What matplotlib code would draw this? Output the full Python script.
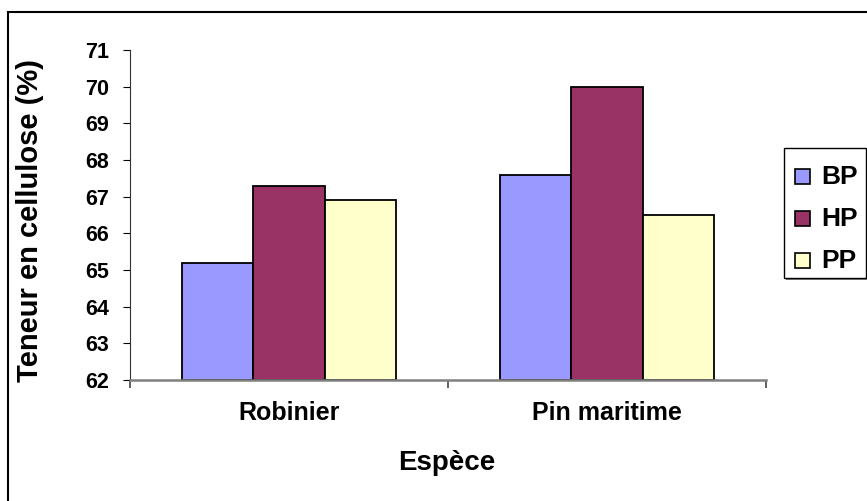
import numpy as np
import matplotlib.pyplot as plt
from matplotlib.patches import Rectangle

plt.rcParams['font.family'] = ['Liberation Sans', 'DejaVu Sans']
plt.rcParams['font.weight'] = 'bold'

especes = ['Robinier', 'Pin maritime']
series = ['BP', 'HP', 'PP']
bp = [65.2, 67.6]
hp = [67.3, 70.0]
pp = [66.9, 66.5]
couleurs = ['#9999FF', '#993366', '#FFFFCC']

W, H = 867, 501
fig = plt.figure(figsize=(W / 100, H / 100), dpi=100)
ax = fig.add_axes([130 / W, 1 - 380 / H, (766 - 130) / W, (380 - 50) / H])

x = np.arange(len(especes))
w = 0.225
for i, (vals, c) in enumerate(zip([bp, hp, pp], couleurs)):
    ax.bar(x + (i - 1) * w, np.array(vals) - 62, w, bottom=62,
           color=c, edgecolor='black', linewidth=1.3, label=series[i])

ax.set_ylim(62, 71)
ax.set_xlim(-0.5, 1.5)
ax.set_yticks(range(62, 72))
ax.tick_params(axis='y', labelsize=15.5, length=5, width=0.8, pad=10)
for t in ax.get_yticklabels():
    t.set_fontweight('bold')

ax.set_xticks(x)
ax.set_xticklabels(especes, fontsize=18, fontweight='bold')
ax.tick_params(axis='x', length=0, pad=15)
ax.set_xticks([-0.5, 0.5, 1.5], minor=True)
ax.tick_params(axis='x', which='minor', length=6, width=1.2, color='#444444')

ax.spines['top'].set_visible(False)
ax.spines['right'].set_visible(False)
ax.spines['left'].set_color('#333333')
ax.spines['bottom'].set_color('#808080')
ax.spines['bottom'].set_linewidth(1.8)

fig.text(30 / W, 1 - 220 / H, 'Teneur en cellulose (%)', rotation=90,
         ha='center', va='center', fontsize=21, fontweight='bold')
fig.text(447 / W, 1 - 463 / H, 'Espèce', ha='center', va='center',
         fontsize=20, fontweight='bold')

# cadre de la figure
fig.patches.append(Rectangle((8 / W, -0.1), 1.2, 1.1 - 12 / H,
                             transform=fig.transFigure, fill=False,
                             edgecolor='black', linewidth=1.5))

# légende avec ombre
lx0, lx1, ly0, ly1 = 784, 866, 148, 278
fig.patches.append(Rectangle((lx0 / W + 2 / W, 1 - ly1 / H - 2 / H),
                             (lx1 - lx0) / W, (ly1 - ly0) / H,
                             transform=fig.transFigure, facecolor='#808080',
                             edgecolor='none'))
fig.patches.append(Rectangle((lx0 / W, 1 - ly1 / H), (lx1 - lx0) / W,
                             (ly1 - ly0) / H, transform=fig.transFigure,
                             facecolor='white', edgecolor='black',
                             linewidth=1.0))
for i, (s, c) in enumerate(zip(series, couleurs)):
    yc = 177 + i * 42
    fig.patches.append(Rectangle((795 / W, 1 - (yc + 7) / H), 15 / W, 15 / H,
                                 transform=fig.transFigure, facecolor=c,
                                 edgecolor='black', linewidth=1.2))
    fig.text(821 / W, 1 - yc / H, s, ha='left', va='center',
             fontsize=19, fontweight='bold')

fig.savefig('out.png', dpi=100)
